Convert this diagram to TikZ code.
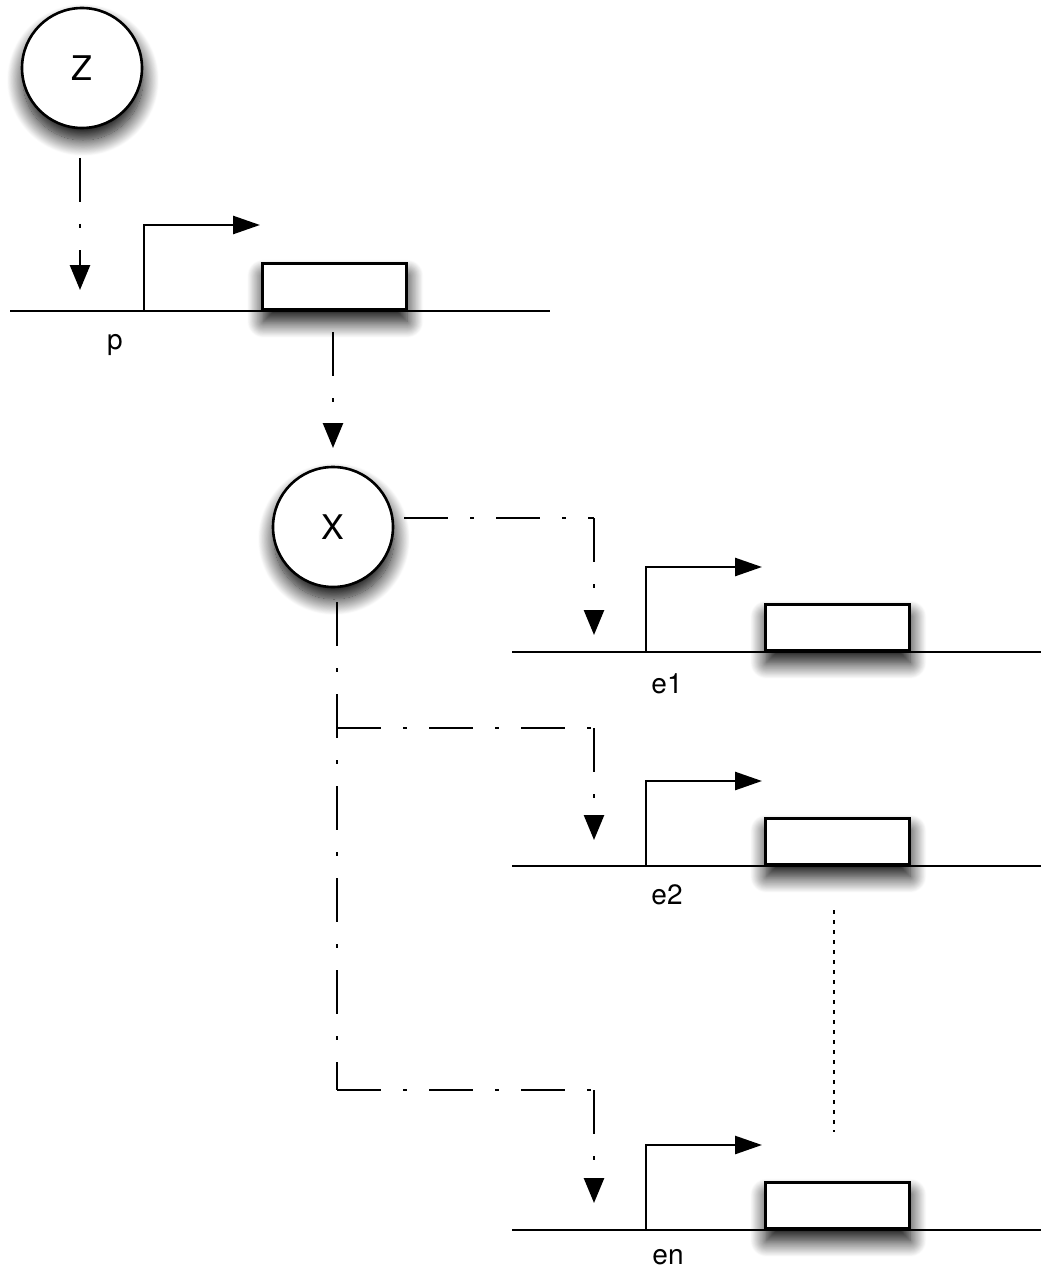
\documentclass[tikz,border=0pt]{standalone}
\usepackage{fontspec}
\setmainfont{TeX Gyre Heros}
\usetikzlibrary{arrows.meta,shadows.blur}
\begin{document}
\begin{tikzpicture}[x=0.5pt,y=-0.5pt,
  lw/.style={line width=1.3pt},
  shadowed/.style={blur shadow={shadow xshift=0.5pt,shadow yshift=-6pt,shadow blur radius=8pt,shadow opacity=100,shadow blur steps=20}},
  species/.style={circle,draw,lw,fill=white,minimum size=60pt,inner sep=0pt,font=\fontsize{17}{20}\selectfont,shadowed},
  genebox/.style={rectangle,draw,lw,fill=white,minimum width=72pt,minimum height=23pt,inner sep=0pt,anchor=south west,shadowed},
  dna/.style={lw},
  promoter/.style={lw,-{Triangle[length=13.5pt,width=9pt]}},
  regulate/.style={lw,dash pattern=on 22pt off 11pt on 2pt off 11pt},
  regarrow/.style={regulate,-{Triangle[length=12.5pt,width=10pt]}},
  glabel/.style={font=\fontsize{14}{17}\selectfont,inner sep=0pt},
  cont/.style={line width=1.2pt,dash pattern=on 2pt off 3pt}
]
\useasboundingbox (0,0) rectangle (1041,1273);
% species
\node[species] (Z) at (82,68) {Z};
\node[species] (X) at (333,527) {X};
% gene boxes
\node[genebox] (Bp) at (261,311) {};
\node[genebox] (B1) at (764,652) {};
\node[genebox] (B2) at (764,866) {};
\node[genebox] (Bn) at (764,1230) {};
% DNA lines
\coordinate (Lp1) at (10,311);   \coordinate (Lp2) at (550,311);
\coordinate (L11) at (512,652);  \coordinate (L12) at (1041,652);
\coordinate (L21) at (512,866);  \coordinate (L22) at (1041,866);
\coordinate (Ln1) at (512,1230); \coordinate (Ln2) at (1041,1230);
\draw[dna] (Lp1) -- (Lp2);
\draw[dna] (L11) -- (L12);
\draw[dna] (L21) -- (L22);
\draw[dna] (Ln1) -- (Ln2);
% promoters
\coordinate (Pp) at (144,311);  \coordinate (Pp2) at (260,225);
\coordinate (P1) at (646,652);  \coordinate (P12) at (762,567);
\coordinate (P2) at (646,866);  \coordinate (P22) at (762,781);
\coordinate (Pn) at (646,1230); \coordinate (Pn2) at (762,1145);
\draw[promoter] (Pp) |- (Pp2);
\draw[promoter] (P1) |- (P12);
\draw[promoter] (P2) |- (P22);
\draw[promoter] (Pn) |- (Pn2);
% labels
\node[glabel] (lp) at (115,345) {p};
\node[glabel] (l1) at (667,684) {e1};
\node[glabel] (l2) at (667,895) {e2};
\node[glabel] (ln) at (668,1257) {en};
% regulation connectors
\coordinate (Za) at (80,158);  \coordinate (Zb) at (80,290);
\draw[regarrow] (Za) -- (Zb);
\coordinate (Ba) at (333,332); \coordinate (Bb) at (333,448);
\draw[regarrow] (Ba) -- (Bb);
\coordinate (Xa) at (404,518); \coordinate (Xc1) at (594,518); \coordinate (Xt1) at (594,635);
\draw[regulate] (Xa) -- (Xc1);
\draw[regarrow] (Xc1) -- (Xt1);
\coordinate (Xm) at (337,602); \coordinate (Xb2) at (337,728); \coordinate (Xb3) at (337,1090);
\draw[regulate] (Xm) -- (Xb3);
\coordinate (Xc2) at (594,728); \coordinate (Xt2) at (594,840);
\draw[regulate] (Xb2) -- (Xc2);
\draw[regarrow] (Xc2) -- (Xt2);
\coordinate (Xc3) at (594,1090); \coordinate (Xt3) at (594,1203);
\draw[regulate] (Xb3) -- (Xc3);
\draw[regarrow] (Xc3) -- (Xt3);
% continuation dots
\coordinate (Da) at (834,910); \coordinate (Db) at (834,1132);
\draw[cont] (Da) -- (Db);
\end{tikzpicture}
\end{document}
